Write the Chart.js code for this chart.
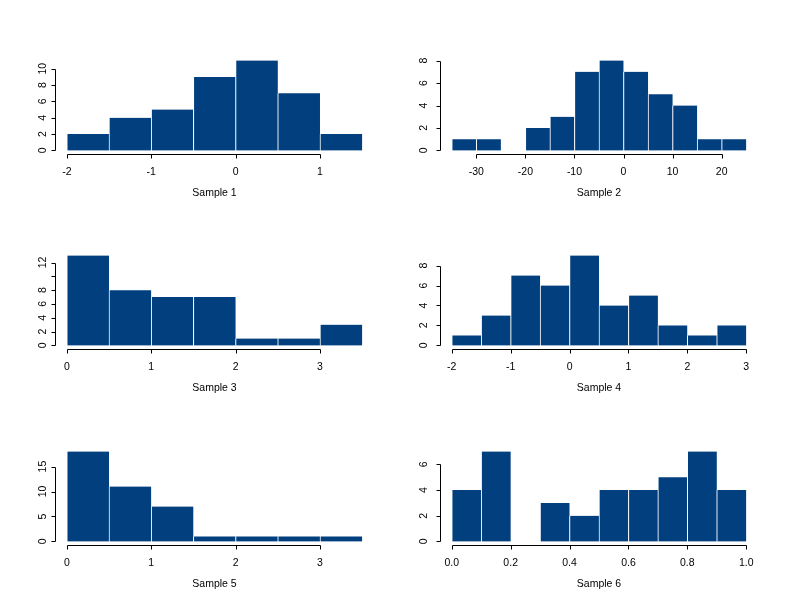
<!DOCTYPE html>
<html>
<head>
<meta charset="utf-8">
<script src="https://cdn.jsdelivr.net/npm/chart.js@4.4.1/dist/chart.umd.min.js"></script>
<style>
  html, body { margin: 0; padding: 0; background: #ffffff; }
  #wrap { position: relative; width: 792px; height: 611px; overflow: hidden; background: #ffffff; }
  #wrap canvas { position: absolute; left: 0; top: 0; }
</style>
</head>
<body>
<div id="wrap">
  <canvas id="c1" width="792" height="611"></canvas>
  <canvas id="c2" width="792" height="611"></canvas>
  <canvas id="c3" width="792" height="611"></canvas>
  <canvas id="c4" width="792" height="611"></canvas>
  <canvas id="c5" width="792" height="611"></canvas>
  <canvas id="c6" width="792" height="611"></canvas>
</div>
<script>
// ---------- DATA ----------
// Sample 1
const centers1 = [-1.75, -1.25, -0.75, -0.25, 0.25, 0.75, 1.25];
const counts1  = [2, 4, 5, 9, 11, 7, 2];
const breaks1  = [-2, 1.5];
const xTicks1  = [-2, -1, 0, 1];
const yTicks1  = [0, 2, 4, 6, 8, 10];
const yLabels1 = ['0', '2', '4', '6', '8', '10'];

// Sample 2
const centers2 = [-32.5, -27.5, -22.5, -17.5, -12.5, -7.5, -2.5, 2.5, 7.5, 12.5, 17.5, 22.5];
const counts2  = [1, 1, 0, 2, 3, 7, 8, 7, 5, 4, 1, 1];
const breaks2  = [-35, 25];
const xTicks2  = [-30, -20, -10, 0, 10, 20];
const yTicks2  = [0, 2, 4, 6, 8];
const yLabels2 = ['0', '2', '4', '6', '8'];

// Sample 3
const centers3 = [0.25, 0.75, 1.25, 1.75, 2.25, 2.75, 3.25];
const counts3  = [13, 8, 7, 7, 1, 1, 3];
const breaks3  = [0, 3.5];
const xTicks3  = [0, 1, 2, 3];
const yTicks3  = [0, 2, 4, 6, 8, 10, 12];
const yLabels3 = ['0', '2', '4', '6', '8', '', '12'];

// Sample 4
const centers4 = [-1.75, -1.25, -0.75, -0.25, 0.25, 0.75, 1.25, 1.75, 2.25, 2.75];
const counts4  = [1, 3, 7, 6, 9, 4, 5, 2, 1, 2];
const breaks4  = [-2, 3];
const xTicks4  = [-2, -1, 0, 1, 2, 3];
const yTicks4  = [0, 2, 4, 6, 8];
const yLabels4 = ['0', '2', '4', '6', '8'];

// Sample 5
const centers5 = [0.25, 0.75, 1.25, 1.75, 2.25, 2.75, 3.25];
const counts5  = [18, 11, 7, 1, 1, 1, 1];
const breaks5  = [0, 3.5];
const xTicks5  = [0, 1, 2, 3];
const yTicks5  = [0, 5, 10, 15];
const yLabels5 = ['0', '5', '10', '15'];

// Sample 6
const centers6 = [0.05, 0.15, 0.25, 0.35, 0.45, 0.55, 0.65, 0.75, 0.85, 0.95];
const counts6  = [4, 7, 0, 3, 2, 4, 4, 5, 7, 4];
const breaks6  = [0, 1];
const xTicks6  = [0, 0.2, 0.4, 0.6, 0.8, 1.0];
const xLabels6 = ['0.0', '0.2', '0.4', '0.6', '0.8', '1.0'];
const yTicks6  = [0, 2, 4, 6];
const yLabels6 = ['0', '2', '4', '6'];

const titles = ['Sample 1', 'Sample 2', 'Sample 3', 'Sample 4', 'Sample 5', 'Sample 6'];

// ---------- LAYOUT / STYLE ----------
const PAGE_W = 792, PAGE_H = 611;
const BAR_COLOR = '#013f7f';
const FONT = '10.5px "Liberation Sans", Arial, Helvetica, sans-serif';
const columns = [
  { left: 55, right: 374, ylabOff: 9.5 },
  { left: 440, right: 758, ylabOff: 13.5 }
];
const rowBottoms = [154, 349, 545];
const PLOT_H = 97;

const panels = [
  { id: 'c1', col: 0, row: 0, centers: centers1, counts: counts1, breaks: breaks1, xTicks: xTicks1, xLabels: xTicks1.map(String), yTicks: yTicks1, yLabels: yLabels1, title: titles[0] },
  { id: 'c2', col: 1, row: 0, centers: centers2, counts: counts2, breaks: breaks2, xTicks: xTicks2, xLabels: xTicks2.map(String), yTicks: yTicks2, yLabels: yLabels2, title: titles[1] },
  { id: 'c3', col: 0, row: 1, centers: centers3, counts: counts3, breaks: breaks3, xTicks: xTicks3, xLabels: xTicks3.map(String), yTicks: yTicks3, yLabels: yLabels3, title: titles[2] },
  { id: 'c4', col: 1, row: 1, centers: centers4, counts: counts4, breaks: breaks4, xTicks: xTicks4, xLabels: xTicks4.map(String), yTicks: yTicks4, yLabels: yLabels4, title: titles[3] },
  { id: 'c5', col: 0, row: 2, centers: centers5, counts: counts5, breaks: breaks5, xTicks: xTicks5, xLabels: xTicks5.map(String), yTicks: yTicks5, yLabels: yLabels5, title: titles[4] },
  { id: 'c6', col: 1, row: 2, centers: centers6, counts: counts6, breaks: breaks6, xTicks: xTicks6, xLabels: xLabels6, yTicks: yTicks6, yLabels: yLabels6, title: titles[5] }
];

// R-style axes drawn from the chart's own scales
const rAxesPlugin = {
  id: 'rAxes',
  afterDraw(chart, args, opts) {
    const p = opts.panel;
    const ctx = chart.ctx;
    const xs = chart.scales.x, ys = chart.scales.y;
    const area = chart.chartArea;
    ctx.save();
    ctx.strokeStyle = '#000000';
    ctx.fillStyle = '#000000';
    ctx.lineWidth = 1;
    ctx.font = FONT;

    // x axis
    const yA = Math.round(area.bottom) + 0.5;
    const xPix = p.xTicks.map(v => xs.getPixelForValue(v));
    ctx.beginPath();
    ctx.moveTo(Math.round(xPix[0]) + 0.5, yA);
    ctx.lineTo(Math.round(xPix[xPix.length - 1]) + 0.5, yA);
    xPix.forEach(px => {
      ctx.moveTo(Math.round(px) + 0.5, yA);
      ctx.lineTo(Math.round(px) + 0.5, yA + 4);
    });
    ctx.stroke();
    ctx.textAlign = 'center';
    ctx.textBaseline = 'alphabetic';
    xPix.forEach((px, i) => ctx.fillText(p.xLabels[i], px, area.bottom + 20.5));

    // y axis
    const xA = Math.round(area.left) + 0.5;
    const yPix = p.yTicks.map(v => ys.getPixelForValue(v));
    ctx.beginPath();
    ctx.moveTo(xA, Math.round(yPix[0]) + 0.5);
    ctx.lineTo(xA, Math.round(yPix[yPix.length - 1]) + 0.5);
    yPix.forEach(py => {
      ctx.moveTo(xA, Math.round(py) + 0.5);
      ctx.lineTo(xA - 4, Math.round(py) + 0.5);
    });
    ctx.stroke();
    yPix.forEach((py, i) => {
      if (!p.yLabels[i]) return;
      ctx.save();
      ctx.translate(area.left - p.ylabOff, py);
      ctx.rotate(-Math.PI / 2);
      ctx.textAlign = 'center';
      ctx.textBaseline = 'alphabetic';
      ctx.fillText(p.yLabels[i], 0, 0);
      ctx.restore();
    });

    // x axis title
    ctx.textAlign = 'center';
    ctx.textBaseline = 'alphabetic';
    ctx.fillText(p.title, (area.left + area.right) / 2, area.bottom + 41.5);
    ctx.restore();
  }
};

panels.forEach(p => {
  const col = columns[p.col];
  p.ylabOff = col.ylabOff;
  const bottom = rowBottoms[p.row];
  const top = bottom - PLOT_H;
  const xr = p.breaks[1] - p.breaks[0];
  const ymax = Math.max(...p.counts);

  new Chart(document.getElementById(p.id), {
    type: 'bar',
    data: {
      datasets: [{
        data: p.centers.map((c, i) => ({ x: c, y: p.counts[i] })),
        backgroundColor: BAR_COLOR,
        borderColor: '#ffffff',
        borderWidth: { left: 1, right: 0, top: 0, bottom: 0 },
        borderSkipped: false,
        barPercentage: 1.0,
        categoryPercentage: 1.0
      }]
    },
    options: {
      responsive: false,
      animation: false,
      devicePixelRatio: 1,
      events: [],
      layout: {
        padding: { left: col.left, right: PAGE_W - col.right, top: top, bottom: PAGE_H - bottom }
      },
      plugins: {
        legend: { display: false },
        tooltip: { enabled: false },
        title: { display: false },
        rAxes: { panel: p }
      },
      scales: {
        x: {
          type: 'linear',
          display: false,
          offset: false,
          min: p.breaks[0] - 0.04 * xr,
          max: p.breaks[1] + 0.04 * xr,
          afterBuildTicks: s => { s.ticks = p.xTicks.map(v => ({ value: v })); }
        },
        y: {
          type: 'linear',
          display: false,
          min: -0.04 * ymax,
          max: 1.04 * ymax,
          afterBuildTicks: s => { s.ticks = p.yTicks.map(v => ({ value: v })); }
        }
      }
    },
    plugins: [rAxesPlugin]
  });
});
</script>
</body>
</html>
